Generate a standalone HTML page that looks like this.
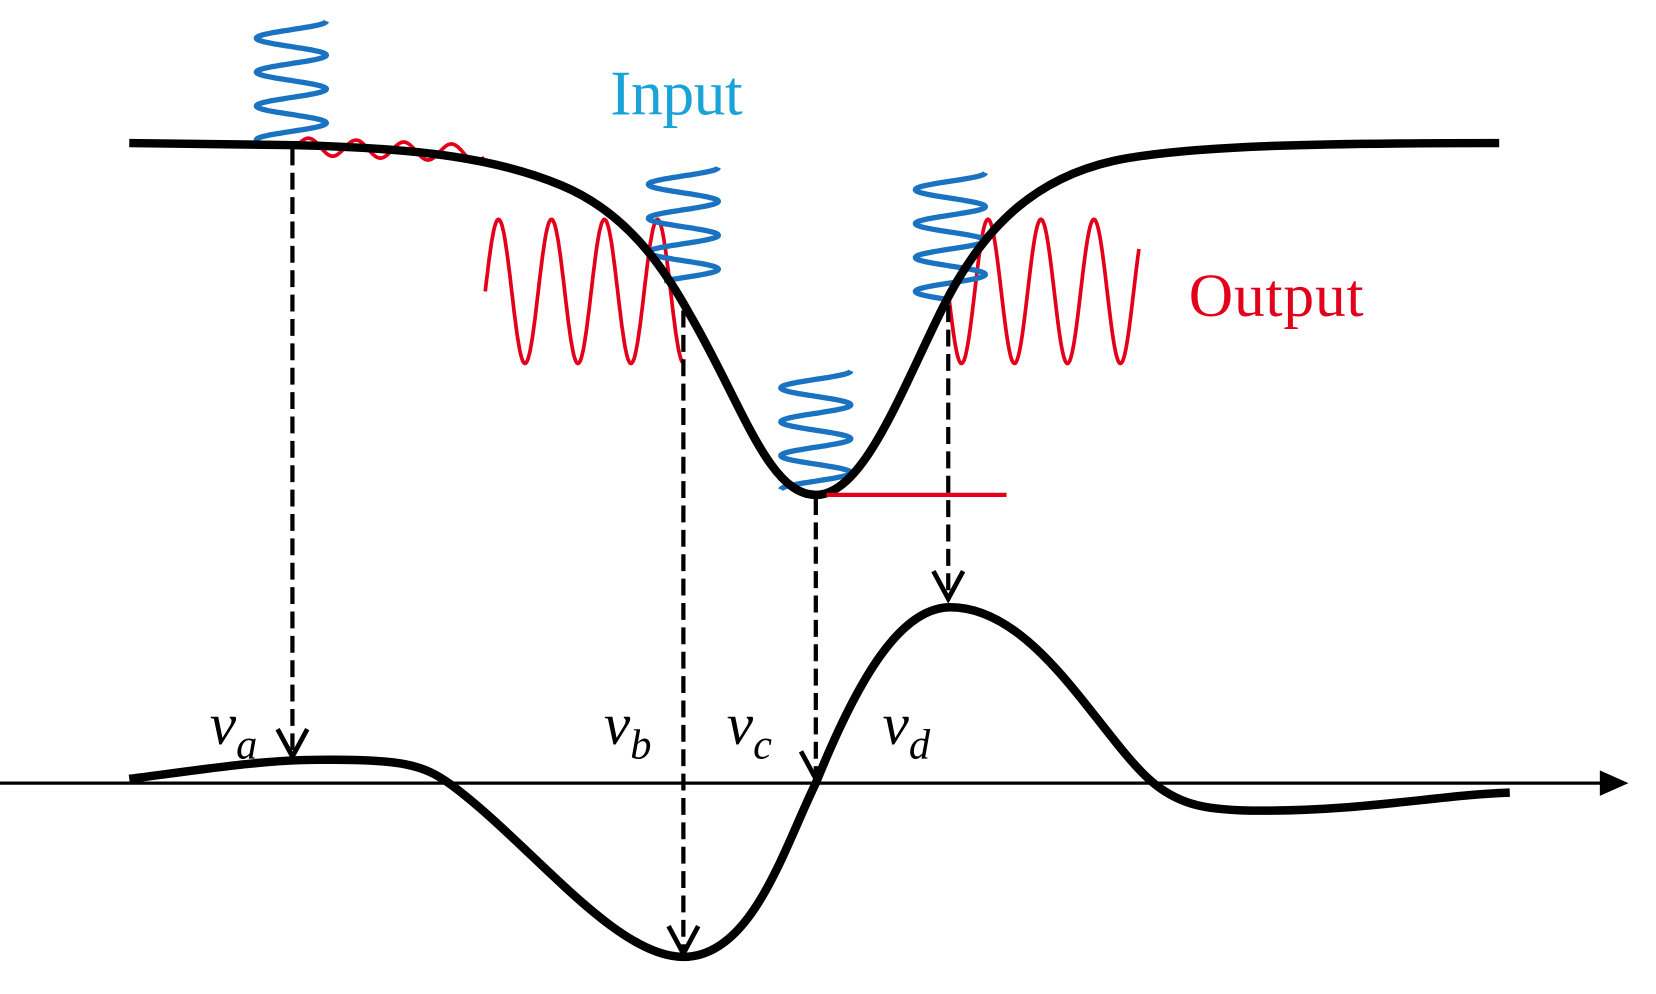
<!DOCTYPE html>
<html><head><meta charset="utf-8"><style>
html,body{margin:0;padding:0;background:#fff;}
svg{display:block;}
</style></head><body>
<svg width="1656" height="994" viewBox="0 0 1563 938" preserveAspectRatio="none" xmlns="http://www.w3.org/2000/svg">
<g id="red" fill="none" stroke="#e3001b" stroke-width="3.5"></g>
<g id="blue" fill="none" stroke="#1a73c0" stroke-width="5"></g>
<!-- top curve -->
<path d="M122,135 L280,137 C400,140 470,150 530,175 C590,200 625,250 650,295 C700,380 725,467 770,467 C815,467 850,370 890,290 C930,210 980,168 1050,152 C1120,137 1250,135 1415,135" fill="none" stroke="#000" stroke-width="8"/>
<line x1="780" y1="467" x2="950" y2="467" stroke="#e3001b" stroke-width="4"/>
<!-- axis -->
<line x1="0" y1="739" x2="1515" y2="739" stroke="#000" stroke-width="3"/>
<polygon points="1510,727 1537,739 1510,751" fill="#000"/>
<!-- bottom curve -->
<path d="M122,735 C200,725 250,717 300,717 C380,716 400,722 425,740 C500,795 580,903 645,903 C710,903 740,800 770,739 C810,640 850,573 897,573 C980,573 1040,700 1090,740 C1115,760 1140,765 1190,765 C1290,765 1360,750 1425,748" fill="none" stroke="#000" stroke-width="8"/>
<!-- dashed arrows -->
<g stroke="#000" stroke-width="4" stroke-dasharray="16,7" fill="none">
<line x1="276" y1="140" x2="276" y2="712"/>
<line x1="645" y1="293" x2="645" y2="898"/>
<line x1="770" y1="470" x2="770" y2="733"/>
<line x1="895" y1="288" x2="895" y2="563"/>
</g>
<g stroke="#000" stroke-width="4.5" fill="none">
<polyline points="262,688 276,714 290,688"/>
<polyline points="631,874 645,900 659,874"/>
<polyline points="756,709 770,735 784,709"/>
<polyline points="881,539 895,565 909,539"/>
</g>
<text x="576" y="108" font-family="Liberation Serif, serif" font-size="60" fill="#1aa3d9" textLength="125">Input</text>
<text x="1122" y="298" font-family="Liberation Serif, serif" font-size="58" fill="#e3001b" textLength="165">Output</text>
<g font-family="Liberation Serif, serif" font-style="italic" font-size="56" fill="#000">
<text x="198" y="702">v<tspan font-size="40" dy="14">a</tspan></text>
<text x="570" y="702">v<tspan font-size="40" dy="14">b</tspan></text>
<text x="686" y="702">v<tspan font-size="40" dy="14">c</tspan></text>
<text x="833" y="702">v<tspan font-size="40" dy="14">d</tspan></text>
</g>
<script>
var ns="http://www.w3.org/2000/svg";
function vs(cx,y0,y1,amp,per){
  var d="",n=200;for(var i=0;i<=n;i++){var y=y0+(y1-y0)*i/n;var x=cx+amp*Math.sin(2*Math.PI*(y-y0)/per+Math.PI/2);d+=(i?"L":"M")+x.toFixed(1)+","+y.toFixed(1);}return d;}
function hs(x0,x1,cy,amp,per,ph,tilt){var d="",n=300;for(var i=0;i<=n;i++){var x=x0+(x1-x0)*i/n;var y=cy+(tilt||0)*(x-x0)-amp*Math.sin(2*Math.PI*(x-x0)/per+ph);d+=(i?"L":"M")+x.toFixed(1)+","+y.toFixed(1);}return d;}
function add(g,d){var p=document.createElementNS(ns,"path");p.setAttribute("d",d);document.getElementById(g).appendChild(p);}
add("blue",vs(275,20,133,33,32));
add("blue",vs(645,158,265,33,32));
add("blue",vs(897,163,283,33,32));
add("blue",vs(770,350,462,33,32));
add("red",hs(280,457,138,8,45,0,0.04));
add("red",hs(458,645,275,68,50,0));
add("red",hs(895,1075,275,68,50,Math.PI));
</script>
</svg>
</body></html>
